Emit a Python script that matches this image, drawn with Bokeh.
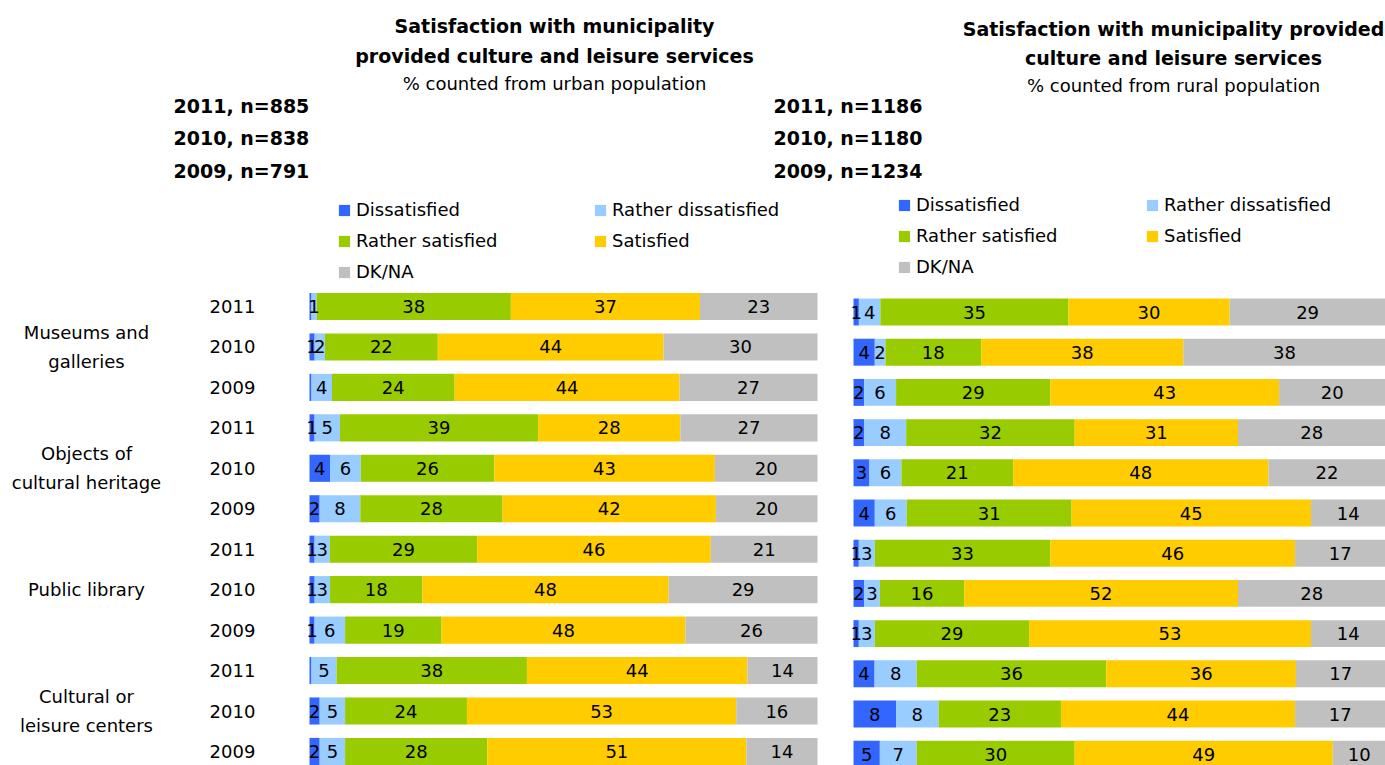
from bokeh.plotting import figure
from bokeh.models import (ColumnDataSource, Range1d, Label, LabelSet, Legend, LegendItem)
from bokeh.core.properties import value
from bokeh.embed import file_html
from bokeh.resources import INLINE

# ---- data -------------------------------------------------------------
groups = ["Museums and\ngalleries", "Objects of\ncultural heritage",
          "Public library", "Cultural or\nleisure centers"]
years = ["2011", "2010", "2009"]
series = ["Dissatisfied", "Rather dissatisfied", "Rather satisfied", "Satisfied", "DK/NA"]
colors = ["#3366FF", "#99CCFF", "#99CC00", "#FFCC00", "#C0C0C0"]

urban_n = [885, 838, 791]
rural_n = [1186, 1180, 1234]

# rows: each service, years 2011, 2010, 2009
urban_dissatisfied = [0.4, 1, 0.4, 1, 4, 2, 1, 1, 1, 0.4, 2, 2]
urban_rather_dissatisfied = [1, 2, 4, 5, 6, 8, 3, 3, 6, 5, 5, 5]
urban_rather_satisfied = [38, 22, 24, 39, 26, 28, 29, 18, 19, 38, 24, 28]
urban_satisfied = [37, 44, 44, 28, 43, 42, 46, 48, 48, 44, 53, 51]
urban_dkna = [23, 30, 27, 27, 20, 20, 21, 29, 26, 14, 16, 14]

rural_dissatisfied = [1, 4, 2, 2, 3, 4, 1, 2, 1, 4, 8, 5]
rural_rather_dissatisfied = [4, 2, 6, 8, 6, 6, 3, 3, 3, 8, 8, 7]
rural_rather_satisfied = [35, 18, 29, 32, 21, 31, 33, 16, 29, 36, 23, 30]
rural_satisfied = [30, 38, 43, 31, 48, 45, 46, 52, 53, 36, 44, 49]
rural_dkna = [29, 38, 20, 28, 22, 14, 17, 28, 14, 17, 17, 10]

urban = [urban_dissatisfied, urban_rather_dissatisfied, urban_rather_satisfied,
         urban_satisfied, urban_dkna]
rural = [rural_dissatisfied, rural_rather_dissatisfied, rural_rather_satisfied,
         rural_satisfied, rural_dkna]

FONT = "DejaVu Sans"
W, H = 1385, 765
keys = ["s%d" % i for i in range(len(series))]


def x_range_for(px0, px100):
    """Range whose 0 and 100 % land on the given page columns."""
    scale = (px100 - px0) / 100
    return Range1d(-px0 / scale, (W - px0) / scale)


def y_range_for(first_row_px, pitch):
    """Row index 0 at first_row_px, growing downwards by pitch."""
    return Range1d((H - first_row_px) / pitch, -first_row_px / pitch)


p = figure(width=W, height=H, output_backend="svg", toolbar_location=None,
           x_range=x_range_for(309, 817), y_range=y_range_for(306, 40.45),
           x_axis_location=None, y_axis_location=None,
           min_border_left=0, min_border_right=0, min_border_top=0, min_border_bottom=0)
p.extra_x_ranges = {"rural": x_range_for(853, 1385)}
p.extra_y_ranges = {"rural": y_range_for(311.5, 40.2)}
p.outline_line_color = None
p.xgrid.visible = False
p.ygrid.visible = False


def stacked(values, rng):
    """Draw a 100 % stacked bar panel; returns its renderers."""
    n = len(values[0])
    totals = [sum(v[i] for v in values) for i in range(n)]
    shares = [[v[i] / totals[i] * 100 for i in range(n)] for v in values]
    data = {"y": list(range(n))}
    for k, s in zip(keys, shares):
        data[k] = s
    renderers = p.hbar_stack(keys, y="y", height=0.67, color=colors, line_color=None,
                             source=ColumnDataSource(data),
                             x_range_name=rng, y_range_name=rng)
    lx, ly, lt = [], [], []
    left = [0.0] * n
    for v, s in zip(values, shares):
        for i in range(n):
            lx.append(left[i] + s[i] / 2)
            ly.append(i)
            lt.append("%d" % round(v[i]) if v[i] >= 0.5 else "")
            left[i] += s[i]
    p.add_layout(LabelSet(x="x", y="y", text="text",
                          source=ColumnDataSource(dict(x=lx, y=ly, text=lt)),
                          x_range_name=rng, y_range_name=rng,
                          text_align="center", text_baseline="middle",
                          text_font=value(FONT), text_font_size="18px",
                          text_color="#000000"))
    return renderers


def add_legend(renderers, px, py_bottom, label_width):
    p.add_layout(Legend(items=[LegendItem(label=s, renderers=[r])
                               for s, r in zip(series, renderers)],
                        location=(px, H - py_bottom), orientation="horizontal", ncols=2,
                        glyph_width=14, glyph_height=14, label_standoff=5,
                        label_width=label_width, spacing=10, padding=0, margin=0,
                        border_line_color=None, background_fill_alpha=0,
                        label_text_font=FONT, label_text_font_size="18px",
                        label_text_color="#000000", label_text_baseline="middle"))


def text(px, py, s, bold=False, align="center", size="18px", row=None, rng="default",
         line_height=1.2):
    kw = dict(x=px, x_units="screen", text=s, text_align=align,
              text_baseline="middle", text_font=FONT, text_font_size=size,
              text_color="#000000", text_font_style="bold" if bold else "normal",
              text_line_height=line_height)
    if row is None:
        kw.update(y=H - py, y_units="screen")
    else:
        kw.update(y=row, y_units="data", y_range_name=rng)
    p.add_layout(Label(**kw))


# ---- urban panel -------------------------------------------------------
urban_r = stacked(urban, "default")
add_legend(urban_r, 337, 282, 227)
text(554, 25, "Satisfaction with municipality", bold=True, size="19px")
text(554, 55, "provided culture and leisure services", bold=True, size="19px")
text(554, 83, "% counted from urban population")
for k, (yr, n) in enumerate(zip(years, urban_n)):
    text(173, 105 + 32.5 * k, "%s, n=%d" % (yr, n), bold=True, align="left", size="19px")
for g, name in enumerate(groups):
    text(86, 0, name, row=g * len(years) + (len(years) - 1) / 2, line_height=1.4)
for i in range(len(urban[0])):
    text(232, 0, years[i % len(years)], row=i)

# ---- rural panel -------------------------------------------------------
rural_r = stacked(rural, "rural")
add_legend(rural_r, 897, 277, 219)
text(1173, 28, "Satisfaction with municipality provided", bold=True, size="19px")
text(1173, 57, "culture and leisure services", bold=True, size="19px")
text(1173, 85, "% counted from rural population")
for k, (yr, n) in enumerate(zip(years, rural_n)):
    text(773, 105 + 32.5 * k, "%s, n=%d" % (yr, n), bold=True, align="left", size="19px")

open("out.html", "w").write(file_html(p, INLINE))
